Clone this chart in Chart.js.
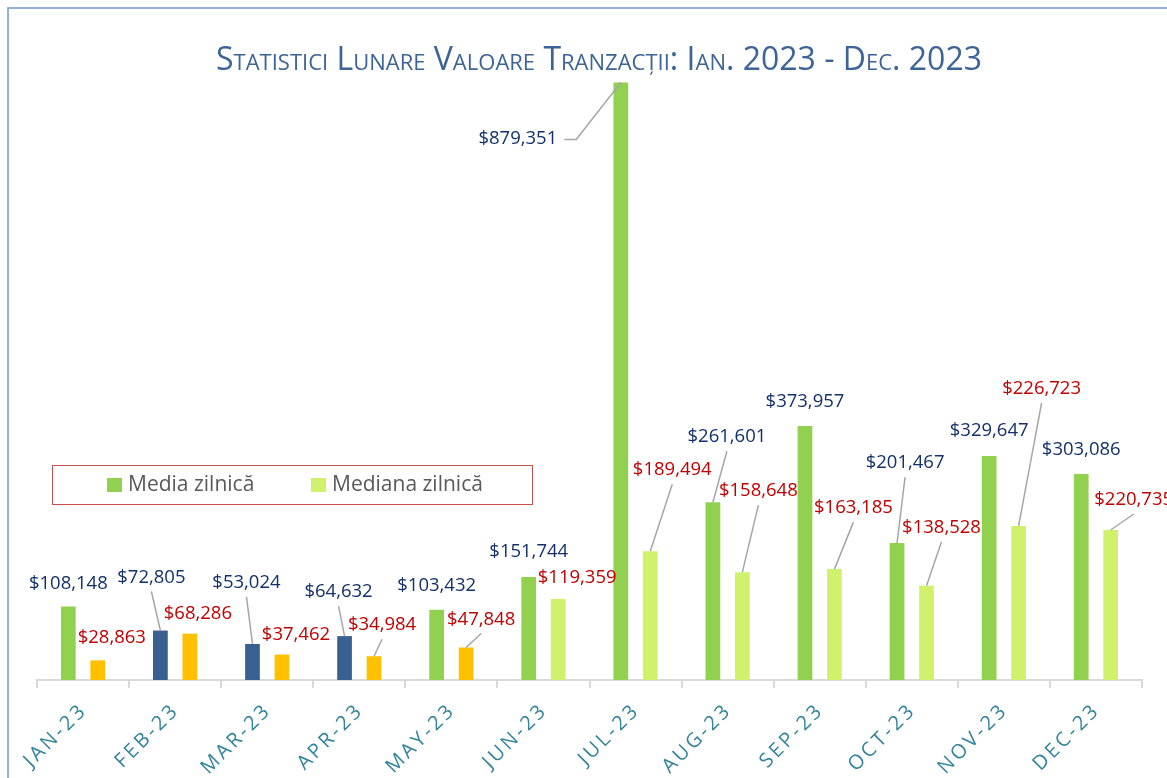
<!DOCTYPE html>
<html>
<head>
<meta charset="utf-8">
<script src="https://cdn.jsdelivr.net/npm/chart.js@4.4.0/dist/chart.umd.min.js"></script>
<style>
  html, body { margin: 0; padding: 0; background: #fff; overflow: hidden; }
  #wrap { width: 1167px; height: 778px; position: relative; }
</style>
</head>
<body>
<div id="wrap"><canvas id="chart" width="1167" height="778"></canvas></div>
<script>
// Monthly transaction value stats, 2023

const months = ['JAN-23', 'FEB-23', 'MAR-23', 'APR-23', 'MAY-23', 'JUN-23',
                'JUL-23', 'AUG-23', 'SEP-23', 'OCT-23', 'NOV-23', 'DEC-23'];
const mediaZilnica   = [108148, 72805, 53024, 64632, 103432, 151744, 879351, 261601, 373957, 201467, 329647, 303086];
const medianaZilnica = [28863, 68286, 37462, 34984, 47848, 119359, 189494, 158648, 163185, 138528, 226723, 220735];

const TITLE = 'Statistici Lunare Valoare Tranzacții: Ian. 2023 - Dec. 2023';
const FONT  = '"Open Sans", "Noto Sans", sans-serif';

// bar colours (some months highlighted in the original)
const GREEN = '#92D050', NAVY = '#386191', LIME = '#CFF16B', AMBER = '#FFC000';
const mediaColors   = months.map((m, i) => (i >= 1 && i <= 3) ? NAVY : GREEN);
const medianaColors = months.map((m, i) => i <= 4 ? AMBER : LIME);

// label placement: offset of label centre from bar top centre, and leader flag
const mediaLabelPos = [[0,-23],[-9,-53],[-6,-61],[-6,-44],[0,-24],[0,-25],[-103,56],[14,-65],[0,-24],[8,-80],[0,-25],[0,-24]];
const mediaLeader   = [0,1,1,1,0,0,2,1,0,1,0,0];
const medianaLabelPos = [[14,-23],[8,-20],[14,-20],[8,-31],[15,-28],[19,-21],[22,-81],[16,-81],[19,-61],[15,-58],[23,-137],[23,-30]];
const medianaLeader   = [0,0,0,1,1,0,1,1,1,1,1,1];

const fmt = v => '$' + v.toLocaleString('en-US');

const overlay = {
  id: 'overlay',
  beforeDraw(chart) {
    const ctx = chart.ctx;
    ctx.save();
    ctx.strokeStyle = '#7096CB';
    ctx.lineWidth = 1.5;
    ctx.strokeRect(8, 8, 1400, 1000);
    ctx.restore();
  },
  afterDatasetsDraw(chart) {
    const ctx = chart.ctx;
    const sets = [
      { pos: mediaLabelPos, lead: mediaLeader, color: '#13306B' },
      { pos: medianaLabelPos, lead: medianaLeader, color: '#C00000' },
    ];
    ctx.save();
    ctx.font = '18.5px ' + FONT;
    ctx.textAlign = 'center';
    ctx.textBaseline = 'middle';
    sets.forEach((s, di) => {
      const meta = chart.getDatasetMeta(di);
      const data = chart.data.datasets[di].data;
      meta.data.forEach((bar, i) => {
        const bx = bar.x, by = bar.y;
        const lx = bx + s.pos[i][0], ly = by + s.pos[i][1];
        const text = fmt(data[i]);
        ctx.strokeStyle = '#A6A6A6';
        ctx.lineWidth = 1.5;
        if (s.lead[i] === 1) {
          ctx.beginPath();
          ctx.moveTo(lx, ly + 14);
          ctx.lineTo(bx, by);
          ctx.stroke();
        } else if (s.lead[i] === 2) {
          const w = ctx.measureText(text).width;
          const sx = lx + w / 2 + 7;
          ctx.beginPath();
          ctx.moveTo(sx, ly + 1);
          ctx.lineTo(sx + 12, ly + 1);
          ctx.lineTo(bx, by);
          ctx.stroke();
        }
        ctx.fillStyle = s.color;
        ctx.fillText(text, lx, ly);
      });
    });
    ctx.restore();
  },
  afterDraw(chart) {
    const ctx = chart.ctx;
    const xs = chart.scales.x;
    ctx.save();

    // title
    ctx.font = 'small-caps 32px ' + FONT;
    ctx.fillStyle = '#3C6496';
    ctx.textAlign = 'center';
    ctx.textBaseline = 'alphabetic';
    ctx.fillText(TITLE, 599, 70);

    // x labels, rotated
    ctx.font = '20px ' + FONT;
    ctx.fillStyle = '#31849B';
    ctx.textAlign = 'right';
    ctx.textBaseline = 'top';
    ctx.letterSpacing = '3px';
    months.forEach((m, i) => {
      const x = xs.getPixelForValue(i);
      ctx.save();
      ctx.translate(x - 6, 700);
      ctx.rotate(-Math.PI / 4);
      ctx.fillText(m, 0, 0);
      ctx.restore();
    });
    ctx.letterSpacing = '0px';

    // legend box
    ctx.strokeStyle = '#C9504F';
    ctx.lineWidth = 1;
    ctx.strokeRect(52.5, 465.5, 480, 39);
    ctx.font = '21px ' + FONT;
    ctx.textAlign = 'left';
    ctx.textBaseline = 'middle';
    const items = [
      { label: chart.data.datasets[0].label, color: GREEN, x: 107 },
      { label: chart.data.datasets[1].label, color: LIME, x: 311 },
    ];
    items.forEach(it => {
      ctx.fillStyle = it.color;
      ctx.fillRect(it.x, 478, 15, 14);
      ctx.fillStyle = '#595959';
      ctx.fillText(it.label, it.x + 21, 485);
    });

    ctx.restore();
  }
};

new Chart(document.getElementById('chart'), {
  type: 'bar',
  data: {
    labels: months,
    datasets: [
      { label: 'Media zilnică', data: mediaZilnica, backgroundColor: mediaColors, borderWidth: 0 },
      { label: 'Mediana zilnică', data: medianaZilnica, backgroundColor: medianaColors, borderWidth: 0 },
    ]
  },
  options: {
    responsive: false,
    animation: false,
    devicePixelRatio: 1,
    categoryPercentage: 0.64,
    barPercentage: 0.5,
    layout: { padding: { left: 37, right: 25, top: 82, bottom: 90 } },
    plugins: {
      legend: { display: false },
      title: { display: false },
      tooltip: { enabled: false },
    },
    scales: {
      x: {
        ticks: { display: false },
        grid: { display: true, drawOnChartArea: false, drawTicks: true, tickLength: 8, color: '#D9D9D9', lineWidth: 2 },
        border: { display: true, color: '#D9D9D9', width: 2 },
      },
      y: {
        display: false,
        min: 0,
        max: 880000,
      }
    }
  },
  plugins: [overlay]
});
</script>
</body>
</html>
